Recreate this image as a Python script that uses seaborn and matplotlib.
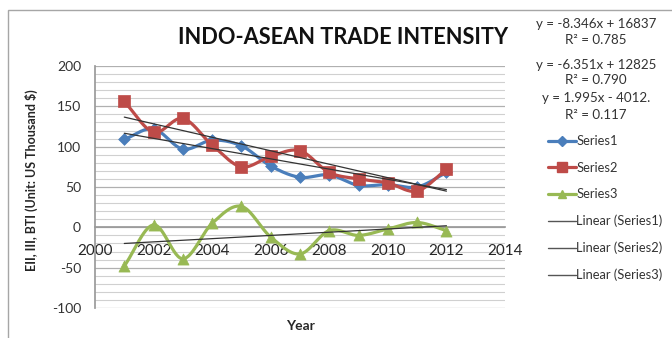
import numpy as np
import pandas as pd
import matplotlib
matplotlib.use("Agg")
import matplotlib.pyplot as plt
from matplotlib.lines import Line2D
from matplotlib.patches import Rectangle
import seaborn as sns

# ---- data -------------------------------------------------------------
years = [2001, 2002, 2003, 2004, 2005, 2006, 2007, 2008, 2009, 2010, 2011, 2012]
series1 = [109, 122, 97, 108, 101, 76, 62, 65, 52, 53, 50, 68]
series2 = [156, 118, 135, 102, 75, 88, 95, 68, 60, 55, 45, 72]
series3 = [-48, 3, -39, 5, 26, -12, -33, -4, -10, -2, 6, -4]

# linear trend coefficients (slope, intercept) and their labels
trend_slopes = [-6.351, -8.346, 1.995]
trend_intercepts = [12825, 16837, -4012]
equation_labels = ["y = -8.346x + 16837", "R² = 0.785",
                   "y = -6.351x + 12825", "R² = 0.790",
                   "y = 1.995x - 4012.", "R² = 0.117"]

series_names = ["Series1", "Series2", "Series3"]
trend_names = ["Linear (Series1)", "Linear (Series2)", "Linear (Series3)"]

x_ticks = [2000, 2002, 2004, 2006, 2008, 2010, 2012, 2014]
y_ticks = [-100, -50, 0, 50, 100, 150, 200]

colors = ["#4A7EBB", "#BE4B48", "#98B954"]
markers = ["D", "s", "^"]
marker_sizes = [6, 8.5, 8]

# ---- styling -----------------------------------------------------------
sns.set_theme(style="white")
plt.rcParams["font.family"] = ["Lato", "DejaVu Sans"]
plt.rcParams["text.color"] = "#222222"

fig = plt.figure(figsize=(6.72, 3.38), dpi=100)
ax = fig.add_axes([95 / 672, 1 - 308 / 338, 410 / 672, 242 / 338])

# chart frame
fig.patches.append(Rectangle((8 / 672, -0.1), 1.2, 1 - 10 / 338 + 0.1,
                             transform=fig.transFigure, fill=False,
                             edgecolor="#a6a6a6", linewidth=1.0, zorder=0))


def smooth(xv, yv, n=30):
    """Catmull-Rom spline through the points, as used for smoothed lines."""
    x = np.asarray(xv, float)
    y = np.asarray(yv, float)
    px = np.concatenate([[2 * x[0] - x[1]], x, [2 * x[-1] - x[-2]]])
    py = np.concatenate([[2 * y[0] - y[1]], y, [2 * y[-1] - y[-2]]])
    out_x, out_y = [], []
    t = np.linspace(0, 1, n, endpoint=False)
    for i in range(1, len(px) - 2):
        p0, p1, p2, p3 = py[i - 1], py[i], py[i + 1], py[i + 2]
        q0, q1, q2, q3 = px[i - 1], px[i], px[i + 1], px[i + 2]
        t2, t3 = t * t, t * t * t
        out_y.append(0.5 * (2 * p1 + (-p0 + p2) * t + (2 * p0 - 5 * p1 + 4 * p2 - p3) * t2
                            + (-p0 + 3 * p1 - 3 * p2 + p3) * t3))
        out_x.append(0.5 * (2 * q1 + (-q0 + q2) * t + (2 * q0 - 5 * q1 + 4 * q2 - q3) * t2
                            + (-q0 + 3 * q1 - 3 * q2 + q3) * t3))
    out_x.append([x[-1]])
    out_y.append([y[-1]])
    return np.concatenate(out_x), np.concatenate(out_y)


# gridlines
for v in range(-100, 201, 10):
    major = v % 50 == 0
    ax.axhline(v, color="#b0b0b0" if major else "#d0d0d0",
               lw=0.9 if major else 0.8, zorder=0.5)

data = [series1, series2, series3]
for i, vals in enumerate(data):
    sx, sy = smooth(years, vals)
    sns.lineplot(x=sx, y=sy, ax=ax, color=colors[i], lw=2.3, sort=False,
                 estimator=None, zorder=3)
    sns.scatterplot(x=years, y=vals, ax=ax, color=colors[i], marker=markers[i],
                    s=marker_sizes[i] ** 2, edgecolor=colors[i], linewidth=0.5,
                    zorder=4)

# linear trend lines drawn from their stated equations
yrs = np.array([years[0], years[-1]], float)
for m, b in zip(trend_slopes, trend_intercepts):
    ax.plot(yrs, m * yrs + b, color="#333333", lw=0.9, zorder=5)

ax.set_xlim(2000, 2014)
ax.set_ylim(-100, 200)
ax.set_xticks(x_ticks)
ax.set_yticks(y_ticks)
ax.set_xticklabels([str(v) for v in x_ticks], fontsize=10, color="#333333")
ax.set_yticklabels([str(v) for v in y_ticks], fontsize=10, color="#333333")

for s in ["top", "right"]:
    ax.spines[s].set_visible(False)
ax.spines["bottom"].set_position(("data", 0))
ax.spines["bottom"].set_color("#9a9a9a")
ax.spines["left"].set_color("#9a9a9a")
ax.spines["left"].set_zorder(1)
ax.tick_params(axis="both", length=4, width=0.8, color="#9a9a9a", direction="out")
ax.tick_params(axis="x", pad=8)
ax.tick_params(axis="y", pad=6)

ax.set_xlabel("Year", fontsize=10, fontweight="bold")
ax.xaxis.set_label_coords(205 / 410, -(320 - 308) / 242)
ax.set_ylabel("EII, III, BTI (Unit: US Thousand $)", fontsize=9, fontweight="bold")
ax.yaxis.set_label_coords(-(95 - 38) / 410, (308 - 180) / 242)

fig.text(343 / 672, 1 - 37 / 338, "INDO-ASEAN TRADE INTENSITY",
         fontsize=15.7, fontweight="bold", ha="center", va="center", color="#111111")

# trend equations
eq_y = [24, 40, 65, 80, 98, 115]
for txt, yy in zip(equation_labels, eq_y):
    fig.text(596 / 672, 1 - yy / 338, txt, fontsize=9.6, ha="center", va="center",
             color="#333333")

# legend
handles = [Line2D([0], [0], color=colors[i], lw=2.3, marker=markers[i],
                  markersize=marker_sizes[i] * 0.8, markeredgecolor=colors[i])
           for i in range(3)]
handles += [Line2D([0], [0], color="#555555", lw=1.0) for _ in range(3)]
fig.legend(handles, series_names + trend_names, loc="upper left",
           bbox_to_anchor=(542 / 672, 1 - 129 / 338), frameon=False,
           fontsize=9.3, handlelength=2.1, handletextpad=0.05, labelspacing=1.12,
           borderpad=0, labelcolor="#333333")

fig.savefig("out.png", dpi=100)
